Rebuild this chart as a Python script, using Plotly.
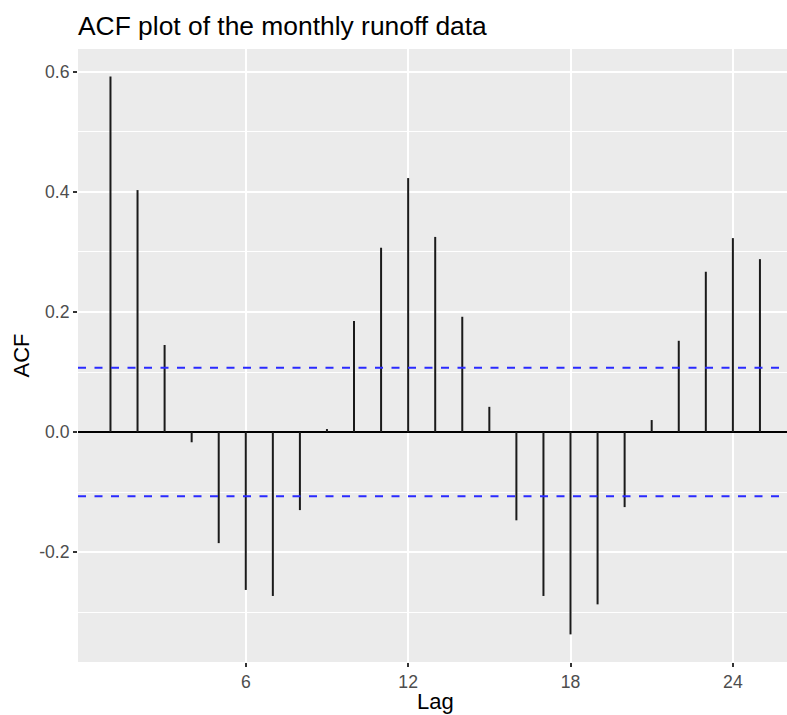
import plotly.graph_objects as go

lags = list(range(1, 26))
acf_values = [0.592, 0.403, 0.145, -0.017, -0.185, -0.263, -0.273, -0.130, 0.005,
              0.185, 0.307, 0.423, 0.325, 0.192, 0.042, -0.147, -0.273, -0.337,
              -0.287, -0.125, 0.020, 0.152, 0.267, 0.323, 0.288]
ci_bound = 0.107
x_tick_vals = [6, 12, 18, 24]
x_tick_text = ["6", "12", "18", "24"]
y_tick_vals = [-0.2, 0.0, 0.2, 0.4, 0.6]
y_tick_text = ["-0.2", "0.0", "0.2", "0.4", "0.6"]

FONT = "Liberation Sans, Arial, Helvetica, sans-serif"

# build vertical segments from the data
seg_x, seg_y = [], []
for lag, v in zip(lags, acf_values):
    seg_x += [lag, lag, None]
    seg_y += [0, v, None]

fig = go.Figure()
fig.add_trace(go.Scatter(x=seg_x, y=seg_y, mode="lines",
                         line=dict(color="#1a1a1a", width=2),
                         hoverinfo="skip", showlegend=False))
for b in (ci_bound, -ci_bound):
    fig.add_trace(go.Scatter(x=[-0.2, 26.2], y=[b, b], mode="lines",
                             line=dict(color="#2a2aff", width=2, dash="8px,8.5px"),
                             hoverinfo="skip", showlegend=False))

fig.update_layout(
    width=787, height=715,
    margin=dict(l=78, r=0, t=49, b=53),
    paper_bgcolor="white",
    plot_bgcolor="#EBEBEB",
    font=dict(family=FONT),
    title=dict(text="ACF plot of the monthly runoff data",
               x=78 / 787, xanchor="left", xref="container",
               y=1 - 35 / 715, yanchor="bottom", yref="container",
               font=dict(size=26.4, color="black", family=FONT)),
    xaxis=dict(range=[-0.2, 26.0], tickvals=x_tick_vals, ticktext=x_tick_text,
               showgrid=True, gridcolor="white", gridwidth=2,
               zeroline=False, showline=False,
               ticks="outside", ticklen=4, tickwidth=1.5, tickcolor="#333333",
               tickfont=dict(size=17.6, color="#4D4D4D", family=FONT)),
    yaxis=dict(range=[-0.383, 0.638], tickvals=y_tick_vals, ticktext=y_tick_text,
               showgrid=True, gridcolor="white", gridwidth=2,
               zeroline=True, zerolinecolor="black", zerolinewidth=1.6,
               showline=False,
               ticks="outside", ticklen=4, tickwidth=1.5, tickcolor="#333333",
               tickfont=dict(size=17.6, color="#4D4D4D", family=FONT),
               minor=dict(tickvals=[-0.3, -0.1, 0.1, 0.3, 0.5], showgrid=True,
                          gridcolor="white", gridwidth=1, ticks="")),
    annotations=[
        dict(text="Lag", xref="x", yref="paper", x=13.0, y=0, yshift=-54,
             xanchor="center", yanchor="bottom", showarrow=False,
             font=dict(size=22, color="black", family=FONT)),
        dict(text="ACF", xref="paper", yref="paper", x=0, xshift=-78 + 21,
             y=0.5, xanchor="center", yanchor="middle", textangle=-90,
             showarrow=False, font=dict(size=22, color="black", family=FONT)),
    ],
)

fig.write_html("out.html")
